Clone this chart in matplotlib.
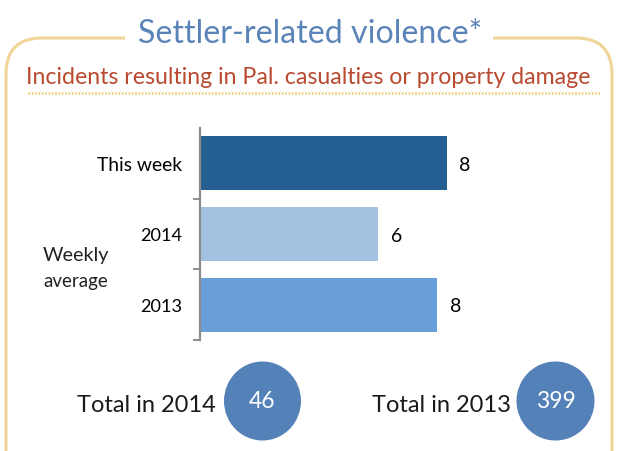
import matplotlib
matplotlib.use('Agg')
import matplotlib.pyplot as plt
from matplotlib.patches import Ellipse, FancyBboxPatch, Rectangle

plt.rcParams['font.family'] = ['Lato', 'DejaVu Sans']

W, H = 620, 451

categories = ["This week", "2014", "2013"]
bar_lengths = [8.0, 5.77, 7.68]
bar_labels = ["8", "6", "8"]
bar_colors = ["#255E91", "#A3C1E0", "#699FD8"]
category_sizes = [13.9, 13.1, 13.1]
totals_labels = ["Total in 2014", "Total in 2013"]
totals_values = ["46", "399"]

fig = plt.figure(figsize=(W / 100, H / 100), dpi=100)

# overlay in pixel coordinates for the frame and header
bg = fig.add_axes([0, 0, 1, 1])
bg.set_xlim(0, W)
bg.set_ylim(H, 0)
bg.axis('off')

frame = FancyBboxPatch((6, 38), 606, 500, boxstyle="round,pad=0,rounding_size=36",
                       fc='white', ec='#F0D596', lw=2.2)
bg.add_patch(frame)
bg.add_patch(Rectangle((125, 25), 368, 26, fc='white', ec='none'))

bg.text(310, 34, "Settler-related violence*", color='#5A84B8', fontsize=23.1,
        ha='center', va='center')
bg.text(308.5, 78, "Incidents resulting in Pal. casualties or property damage",
        color='#B94A30', fontsize=16.7, ha='center', va='center')
bg.plot([28, 601], [93, 93], color='#EFD27E', lw=2, ls=(0, (0.6, 0.6)))

bg.text(76, 255, "Weekly", color='#222222', fontsize=14.2, ha='center', va='center')
bg.text(76, 281, "average", color='#222222', fontsize=13.5, ha='center', va='center')

# bars
ax = fig.add_axes([200 / W, 1 - 340 / H, 308.75 / W, 212 / H])
ax.barh(categories, bar_lengths, height=0.76, color=bar_colors, linewidth=0)
ax.set_xlim(0, 10)
ax.set_ylim(2.5, -0.5)
ax.patch.set_alpha(0)
ax.xaxis.set_visible(False)
for side in ['top', 'right', 'bottom']:
    ax.spines[side].set_visible(False)
ax.spines['left'].set_color('#8C8C8C')
ax.spines['left'].set_linewidth(1.6)
ax.set_yticks([0.5, 1.5, 2.5])
ax.set_yticklabels([])
ax.tick_params(axis='y', length=5, width=1.4, color='#8C8C8C')
for i, (cat, val, lab, size) in enumerate(zip(categories, bar_lengths, bar_labels, category_sizes)):
    ax.annotate(cat, (0, i), xytext=(-13, -1.5), textcoords='offset points', ha='right',
                va='center', fontsize=size, color='black')
    ax.annotate(lab, (val, i), xytext=(9, -1.5), textcoords='offset points', ha='left',
                va='center', fontsize=14, color='black')

# totals
for cx, tx, lab, val, rx in zip([262.5, 555.5], [146.5, 441], totals_labels, totals_values, [38.5, 39]):
    bg.add_patch(Ellipse((cx, 401), rx * 2, 79, fc='#5581B9', ec='none'))
    bg.text(tx, 405, lab, color='#1A1A1A', fontsize=17, ha='center', va='center')
    bg.text(cx, 402, val, color='white', fontsize=16.5, ha='center', va='center')

fig.savefig('out.png', dpi=100)
plt.close(fig)
